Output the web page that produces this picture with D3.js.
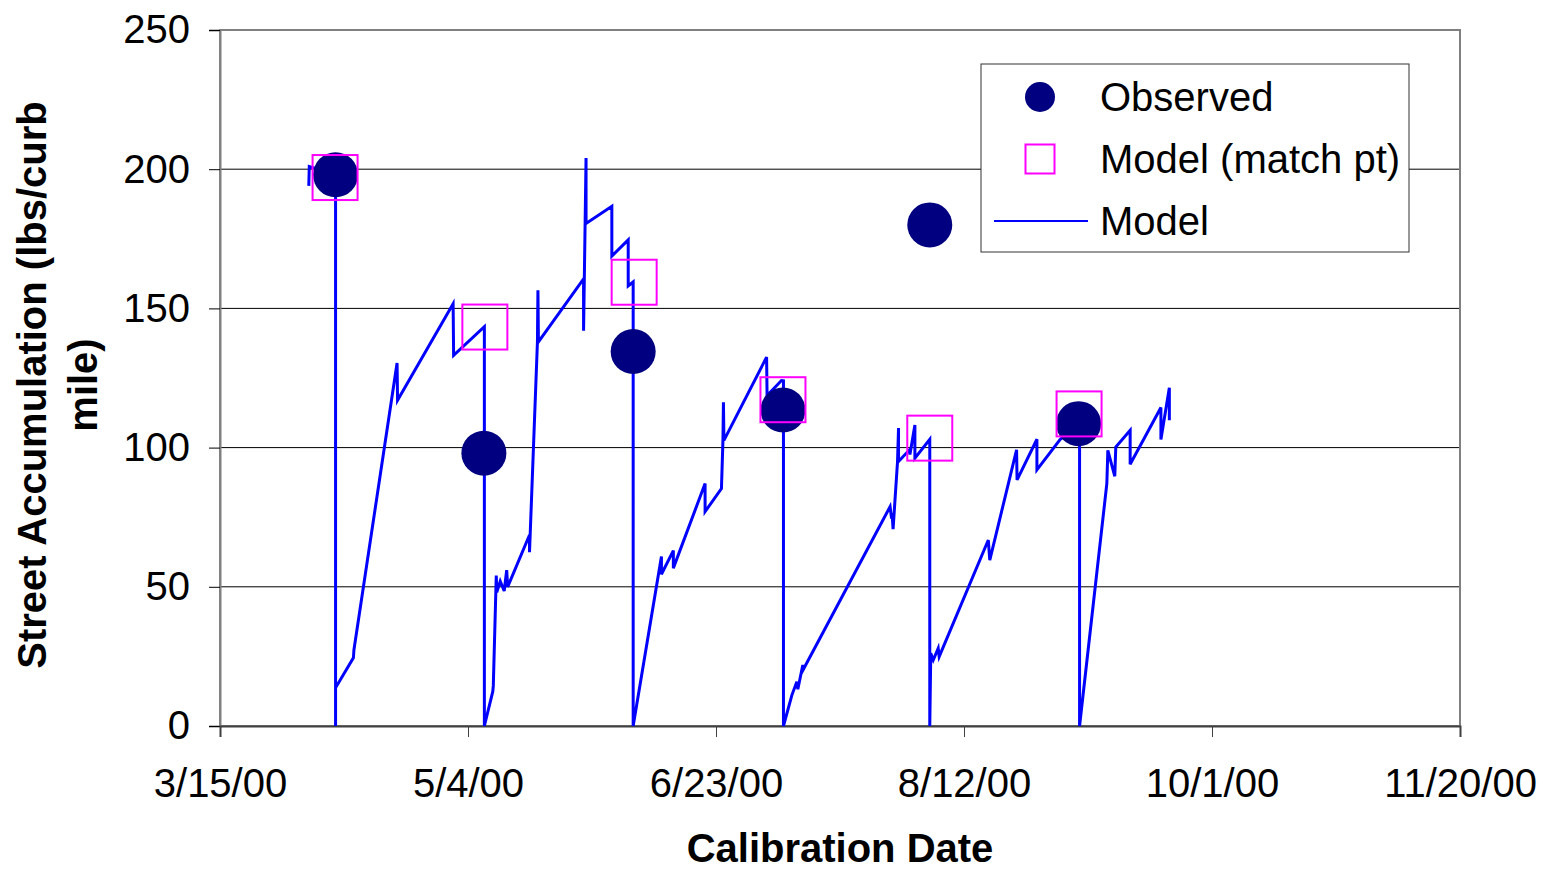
<!DOCTYPE html>
<html>
<head>
<meta charset="utf-8">
<script src="https://cdn.jsdelivr.net/npm/d3@7/dist/d3.min.js"></script>
<style>
  html, body { margin: 0; padding: 0; background: #fff; }
  svg text { font-family: "Liberation Sans", Arial, sans-serif; fill: #000; }
</style>
</head>
<body>
<svg id="chart" width="1543" height="869"></svg>
<script>
// ---- data (days after 3/15/00) ----
const xTickDays = [0, 50, 100, 150, 200, 250];
const xTickLabels = ["3/15/00", "5/4/00", "6/23/00", "8/12/00", "10/1/00", "11/20/00"];
const yTicks = [0, 50, 100, 150, 200, 250];

const observedDays = [23.3, 53.2, 83.3, 113.5, 143.1, 173.1];
const observedValues = [198, 98, 134.5, 113.5, 180, 108.6];

const matchDays = [23.2, 53.4, 83.5, 113.5, 143.1, 173.2];
const matchValues = [197, 143.3, 159.4, 117.2, 103.4, 112.1];

const modelDays = [
  17.9, 18.0, 23.3, 23.3, 23.3, 26.9, 27.0, 35.7, 35.8, 47.0, 47.1, 53.3, 53.3,
  55.0, 55.1, 55.6, 55.7, 55.8, 56.5, 57.3, 57.8, 58.0, 62.4, 62.4, 64.0, 64.1, 64.2,
  73.3, 73.3, 73.8, 73.8, 79.0, 79.0, 82.3, 82.3, 83.3, 83.3,
  89.0, 89.0, 91.4, 91.4, 97.8, 97.8, 101.1, 101.4, 101.5, 101.6, 110.2, 110.3, 113.2, 113.6, 113.6,
  115.3, 116.3, 116.5, 117.5, 117.6, 135.1, 135.4, 135.5, 135.7, 136.6, 136.8, 136.8, 139.0, 139.1,
  140.1, 140.1, 143.1, 143.1,
  143.3, 143.8, 144.8, 145.0, 154.9, 155.2, 160.6, 160.7, 164.7, 164.7, 169.4, 173.3, 173.3,
  178.8, 179.0, 180.4, 180.6, 183.5, 183.5, 189.7, 189.7, 191.4, 191.4
];
const modelValues = [
  194, 201, 198, 0, 13.7, 24.5, 27.3, 130.4, 117, 151.7, 133.1, 143.4, 0,
  12.4, 14.4, 47.5, 54, 48, 52, 48.5, 56, 50, 68.6, 62.4, 138, 156.5, 138,
  160.6, 142, 204, 180.5, 186.7, 168.8, 174.6, 158.1, 159.5, 0,
  60.9, 54.5, 63, 56.7, 87.1, 77, 85.3, 102.6, 116.3, 102.6, 132.5, 118.7, 124.1, 124, 0,
  11.1, 15.9, 13.2, 21.9, 20.3, 78.8, 74.5, 76.5, 70.7, 95, 107, 95, 99.2, 97.5,
  108.1, 96.2, 103, 0,
  26.1, 23.7, 27.9, 24.9, 66.8, 59.6, 99.2, 88.4, 103, 92, 103, 108, 0,
  87.1, 99, 89.7, 100.2, 106.2, 94, 114.4, 102.9, 121.5, 109.8
];

// ---- layout ----
const svg = d3.select("#chart");
const L = 220, R = 1460, T = 30, B = 726;
const x = d3.scaleLinear().domain([0, 250]).range([L, R]);
const y = d3.scaleLinear().domain([0, 250]).range([B, T]);

// gridlines
svg.append("g").selectAll("line").data(yTicks.filter(v => v > 0 && v < 250)).join("line")
  .attr("x1", L).attr("x2", R).attr("y1", d => y(d)).attr("y2", d => y(d))
  .attr("stroke", "#000").attr("stroke-width", 1);

// plot frame
svg.append("rect").attr("x", L).attr("y", T).attr("width", R - L).attr("height", B - T)
  .attr("fill", "none").attr("stroke", "#808080").attr("stroke-width", 2);

// y axis
const yAxis = svg.append("g").attr("transform", `translate(${L},0)`)
  .call(d3.axisLeft(y).tickValues(yTicks).tickSize(11).tickPadding(19).tickFormat(d3.format("d")));
yAxis.select(".domain").attr("stroke", "#808080").attr("stroke-width", 2);
yAxis.selectAll(".tick line").attr("stroke", "#000");
yAxis.selectAll("text").attr("font-size", 40).attr("font-family", "Liberation Sans, Arial, sans-serif");

// x axis
const xAxis = svg.append("g").attr("transform", `translate(0,${B})`)
  .call(d3.axisBottom(x).tickValues(xTickDays).tickSize(11).tickPadding(32)
    .tickFormat((d, i) => xTickLabels[i]));
xAxis.select(".domain").attr("stroke", "#404040").attr("stroke-width", 2);
xAxis.selectAll(".tick line").attr("stroke", "#404040");
xAxis.selectAll("text").attr("font-size", 40).attr("font-family", "Liberation Sans, Arial, sans-serif");

// model line
const modelData = modelDays.map((d, i) => [d, modelValues[i]]);
svg.append("path").datum(modelData)
  .attr("d", d3.line().x(d => x(d[0])).y(d => y(d[1])))
  .attr("fill", "none").attr("stroke", "#0000FF").attr("stroke-width", 3)
  .attr("stroke-linejoin", "miter");

// observed circles
svg.append("g").selectAll("circle").data(observedDays.map((d, i) => [d, observedValues[i]])).join("circle")
  .attr("cx", d => x(d[0])).attr("cy", d => y(d[1])).attr("r", 22.5).attr("fill", "#000080");

// match squares
const S = 45;
svg.append("g").selectAll("rect").data(matchDays.map((d, i) => [d, matchValues[i]])).join("rect")
  .attr("x", d => x(d[0]) - S / 2).attr("y", d => y(d[1]) - S / 2)
  .attr("width", S).attr("height", S)
  .attr("fill", "none").attr("stroke", "#FF00FF").attr("stroke-width", 2);

// axis titles
svg.append("text").attr("x", (L + R) / 2).attr("y", 862).attr("text-anchor", "middle")
  .attr("font-size", 40).attr("font-weight", "bold").text("Calibration Date");
const yt = svg.append("text").attr("transform", "translate(0,385) rotate(-90)")
  .attr("text-anchor", "middle").attr("font-size", 40).attr("font-weight", "bold");
yt.append("tspan").attr("x", 0).attr("y", 46).text("Street Accumulation (lbs/curb");
yt.append("tspan").attr("x", 0).attr("y", 97).text("mile)");

// legend
const lg = svg.append("g");
lg.append("rect").attr("x", 981).attr("y", 64).attr("width", 428).attr("height", 188)
  .attr("fill", "#fff").attr("stroke", "#333").attr("stroke-width", 1);
lg.append("circle").attr("cx", 1040).attr("cy", 97).attr("r", 15).attr("fill", "#000080");
lg.append("rect").attr("x", 1040 - 14.5).attr("y", 159 - 14.5).attr("width", 29).attr("height", 29)
  .attr("fill", "none").attr("stroke", "#FF00FF").attr("stroke-width", 2);
lg.append("line").attr("x1", 994).attr("x2", 1088).attr("y1", 221).attr("y2", 221)
  .attr("stroke", "#0000FF").attr("stroke-width", 2);
const legendLabels = ["Observed", "Model (match pt)", "Model"];
lg.selectAll("text.lab").data(legendLabels).join("text").attr("class", "lab")
  .attr("x", 1100).attr("y", (d, i) => 111 + i * 62).attr("font-size", 40).text(d => d);
</script>
</body>
</html>
